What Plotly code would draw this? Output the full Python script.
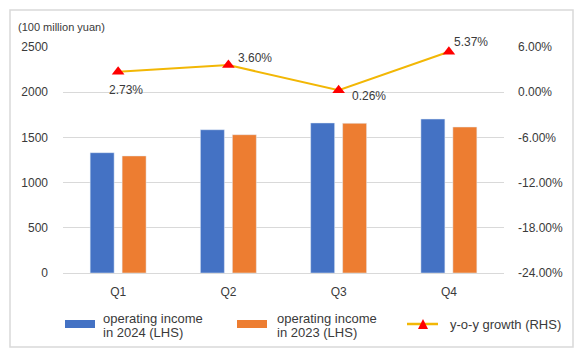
import plotly.graph_objects as go

quarters = ["Q1", "Q2", "Q3", "Q4"]
income_2024 = [1331, 1585, 1660, 1703]
income_2023 = [1295, 1530, 1656, 1615]
yoy_growth = [2.73, 3.60, 0.26, 5.37]
yoy_labels = ["2.73%", "3.60%", "0.26%", "5.37%"]
left_ticks = [0, 500, 1000, 1500, 2000, 2500]
right_ticks = [-24, -18, -12, -6, 0, 6]
right_tick_labels = ["-24.00%", "-18.00%", "-12.00%", "-6.00%", "0.00%", "6.00%"]

W, H = 586, 359
L, R, T, B = 63, 82, 47, 86
PW, PH = W - L - R, H - T - B
TXT = "#3a3a3a"
FONT = "Liberation Sans, Arial, sans-serif"


def px(x):
    return (x - L) / PW


def py(y):
    return (T + PH - y) / PH


fig = go.Figure()
fig.add_trace(go.Bar(x=quarters, y=income_2024, name="operating income in 2024 (LHS)",
                     marker_color="#4472C4", showlegend=False, hoverinfo="skip"))
fig.add_trace(go.Bar(x=quarters, y=income_2023, name="operating income in 2023 (LHS)",
                     marker_color="#ED7D31", showlegend=False, hoverinfo="skip"))
fig.add_trace(go.Scatter(x=quarters, y=yoy_growth, yaxis="y2", mode="lines+markers",
                         name="y-o-y growth (RHS)",
                         line=dict(color="#F2B705", width=2),
                         marker=dict(symbol="triangle-up", color="#FF0000", size=11),
                         showlegend=False, cliponaxis=False, hoverinfo="skip"))

shapes = []
# chart border
shapes.append(dict(type="rect", xref="paper", yref="paper",
                   x0=px(10), x1=px(573), y0=py(347), y1=py(10),
                   line=dict(color="#D9D9D9", width=1.5), layer="below"))
# legend swatches
shapes.append(dict(type="rect", xref="paper", yref="paper", x0=px(65), x1=px(95),
                   y0=py(328), y1=py(320), fillcolor="#4472C4", line=dict(width=0)))
shapes.append(dict(type="rect", xref="paper", yref="paper", x0=px(237), x1=px(267),
                   y0=py(328), y1=py(320), fillcolor="#ED7D31", line=dict(width=0)))
shapes.append(dict(type="line", xref="paper", yref="paper", x0=px(407), x1=px(438),
                   y0=py(324), y1=py(324), line=dict(color="#F2B705", width=2.5)))
shapes.append(dict(type="path", xref="paper", yref="paper",
                   path=f"M{px(418)},{py(329)} L{px(428)},{py(329)} L{px(423)},{py(319)} Z",
                   fillcolor="#FF0000", line=dict(width=0)))

annotations = []
annotations.append(dict(text="(100 million yuan)", xref="paper", yref="paper",
                        x=px(16), y=py(27), xanchor="left", yanchor="middle",
                        showarrow=False, font=dict(size=11, color=TXT, family=FONT)))
leg_texts = [
    (101, 318, "operating income"), (101, 332, "in 2024 (LHS)"),
    (275, 318, "operating income"), (275, 332, "in 2023 (LHS)"),
    (448, 324, "y-o-y growth (RHS)"),
]
for x, y, t in leg_texts:
    annotations.append(dict(text=t, xref="paper", yref="paper", x=px(x), y=py(y),
                            xanchor="left", yanchor="middle", showarrow=False,
                            font=dict(size=13, color=TXT, family=FONT)))

# data labels for the growth line, anchored on the data points
label_shifts = [(8, -18), (27, 7), (30, -6), (22, 10)]
for q, v, t, (dx, dy) in zip(quarters, yoy_growth, yoy_labels, label_shifts):
    annotations.append(dict(text=t, x=q, y=v, xref="x", yref="y2", xshift=dx, yshift=dy,
                            xanchor="center", yanchor="middle", showarrow=False,
                            font=dict(size=12, color=TXT, family=FONT)))

fig.update_layout(
    width=W, height=H,
    margin=dict(l=L, r=R, t=T, b=B),
    paper_bgcolor="white", plot_bgcolor="white",
    barmode="group", bargap=0.42, bargroupgap=0.25,
    font=dict(family=FONT, size=12, color=TXT),
    xaxis=dict(showgrid=False, showline=False, ticks="", ticklabelstandoff=10,
               tickfont=dict(size=12, color=TXT)),
    yaxis=dict(range=[0, 2500], tickvals=left_ticks, showgrid=True, gridcolor="#D9D9D9",
               zeroline=True, zerolinecolor="#D9D9D9", zerolinewidth=1,
               ticks="", ticklabelstandoff=14, tickfont=dict(size=12, color=TXT)),
    yaxis2=dict(range=[-24, 6], tickvals=right_ticks, ticktext=right_tick_labels,
                overlaying="y", side="right", showgrid=False, zeroline=False,
                ticks="", ticklabelstandoff=13, tickfont=dict(size=12, color=TXT)),
    shapes=shapes, annotations=annotations,
    showlegend=False,
)

fig.write_html("out.html", config={"displayModeBar": False, "staticPlot": True},
               post_script="document.body.style.margin='0';document.body.style.overflow='hidden';")
